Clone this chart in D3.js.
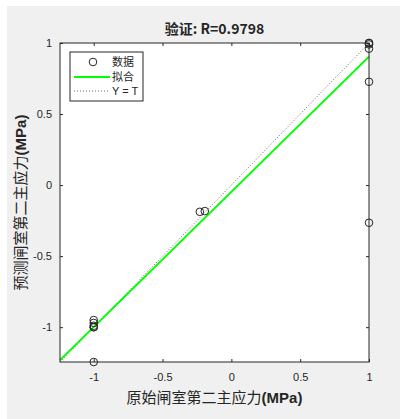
<!DOCTYPE html>
<html>
<head>
<meta charset="utf-8">
<script src="https://cdn.jsdelivr.net/npm/d3@7"></script>
<style>
body { margin: 0; background: #fff; }
text { fill: #262626; }
</style>
</head>
<body>
<svg id="chart" width="400" height="419"></svg>
<script>
// axis limits and ticks
var axisMin = -1.245, axisMax = 1;
var tickValues = [-1, -0.5, 0, 0.5, 1];
var tickLabels = ["-1", "-0.5", "0", "0.5", "1"];

// data points (target vs predicted)
var dataX = [-1, -1, -1, -1, -1, -1, -0.229, -0.193, 1, 1, 1, 1, 1, 1];
var dataY = [-0.95, -0.97, -0.99, -1.0, -1.0, -1.245, -0.188, -0.183, 1.0, 0.99, 0.96, 0.727, -0.265, 1.0];

// fitted line endpoints
var fitX = [-1.245, 1];
var fitY = [-1.232, 0.904];

var titleText = "验证: R=0.9798";
var legendLabels = ["数据", "拟合", "Y = T"];

var svg = d3.select("#chart");
var margin = {left: 60, top: 43, right: 31, bottom: 57};
var width = 400 - margin.left - margin.right;
var height = 419 - margin.top - margin.bottom;

svg.append("rect").attr("x", 7).attr("y", 6).attr("width", 393).attr("height", 413).attr("fill", "#f0f0f0");

var g = svg.append("g").attr("transform", "translate(" + margin.left + "," + margin.top + ")");

var x = d3.scaleLinear().domain([axisMin, axisMax]).range([0, width]);
var y = d3.scaleLinear().domain([axisMin, axisMax]).range([height, 0]);

g.append("rect").attr("width", width).attr("height", height).attr("fill", "#fff");

var cjk = "'Noto Sans CJK SC', sans-serif";
var latin = "'Liberation Sans', Arial, sans-serif";

function styleAxis(sel) {
    sel.selectAll(".domain").remove();
    sel.selectAll("line").attr("stroke", "#262626");
    sel.selectAll("text").style("font-family", latin).style("font-size", "11px").attr("fill", "#262626");
}

var fmt = function (d, i) { return tickLabels[i]; };
g.append("g").attr("transform", "translate(0," + height + ")")
    .call(d3.axisBottom(x).tickValues(tickValues).tickFormat(fmt).tickSizeInner(-3).tickSizeOuter(0).tickPadding(11))
    .call(styleAxis);
g.append("g")
    .call(d3.axisLeft(y).tickValues(tickValues).tickFormat(fmt).tickSizeInner(-3).tickSizeOuter(0).tickPadding(8))
    .call(styleAxis);
g.append("g")
    .call(d3.axisTop(x).tickValues(tickValues).tickFormat("").tickSizeInner(-3).tickSizeOuter(0))
    .call(styleAxis);
g.append("g").attr("transform", "translate(" + width + ",0)")
    .call(d3.axisRight(y).tickValues(tickValues).tickFormat("").tickSizeInner(-3).tickSizeOuter(0))
    .call(styleAxis);

// y = t line
g.append("line")
    .attr("x1", x(axisMin)).attr("y1", y(axisMin))
    .attr("x2", x(axisMax)).attr("y2", y(axisMax))
    .attr("stroke", "#666").attr("stroke-width", 1).attr("stroke-dasharray", "1,2");

// fit line
g.append("line")
    .attr("x1", x(fitX[0])).attr("y1", y(fitY[0]))
    .attr("x2", x(fitX[1])).attr("y2", y(fitY[1]))
    .attr("stroke", "#00ff00").attr("stroke-width", 2);

// data circles
g.selectAll(".pt").data(dataX).enter().append("circle")
    .attr("class", "pt")
    .attr("cx", function (d) { return x(d); })
    .attr("cy", function (d, i) { return y(dataY[i]); })
    .attr("r", 3.8)
    .attr("fill", "none").attr("stroke", "#262626").attr("stroke-width", 1);

// frame
g.append("rect").attr("width", width).attr("height", height)
    .attr("fill", "none").attr("stroke", "#262626").attr("stroke-width", 1);

// legend
var lg = g.append("g").attr("transform", "translate(10,9)");
lg.append("rect").attr("width", 73).attr("height", 49).attr("fill", "#fff").attr("stroke", "#262626");
lg.append("circle").attr("cx", 23).attr("cy", 10).attr("r", 3.8).attr("fill", "none").attr("stroke", "#262626");
lg.append("line").attr("x1", 4).attr("x2", 40).attr("y1", 25).attr("y2", 25).attr("stroke", "#00ff00").attr("stroke-width", 2);
lg.append("line").attr("x1", 4).attr("x2", 40).attr("y1", 39).attr("y2", 39).attr("stroke", "#666").attr("stroke-dasharray", "1,2");
lg.selectAll(".lt").data(legendLabels).enter().append("text")
    .attr("x", 42).attr("y", function (d, i) { return 14 + i * 14.5; })
    .style("font-family", function (d, i) { return i < 2 ? cjk : latin; })
    .style("font-size", "11px")
    .text(function (d) { return d; });

// title
svg.append("text").attr("x", margin.left + width / 2).attr("y", 34)
    .attr("text-anchor", "middle")
    .style("font-family", cjk).style("font-size", "14px").style("font-weight", "bold")
    .text(titleText);

// axis labels
function label(sel, cn) {
    sel.append("tspan").style("font-family", cjk).text(cn);
    sel.append("tspan").style("font-family", latin).style("font-weight", "bold").text("(MPa)");
}
var xl = svg.append("text").attr("x", margin.left + width / 2).attr("y", 403)
    .attr("text-anchor", "middle").style("font-size", "15px");
label(xl, "原始闸室第二主应力");
var yl = svg.append("text").attr("transform", "translate(26," + (margin.top + height / 2) + ") rotate(-90)")
    .attr("text-anchor", "middle").style("font-size", "15px");
label(yl, "预测闸室第二主应力");
</script>
</body>
</html>
